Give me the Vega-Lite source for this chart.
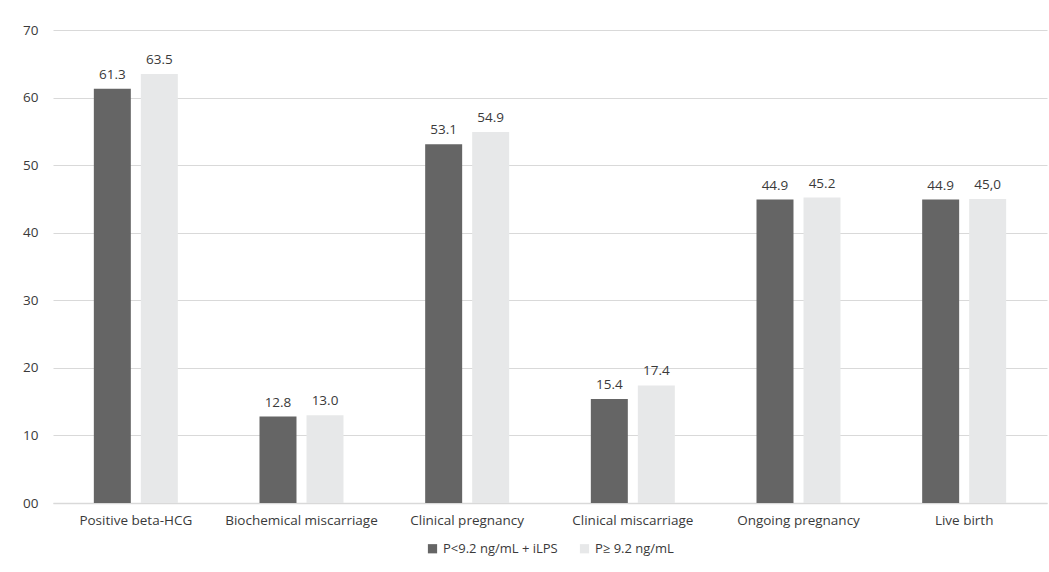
{
  "$schema": "https://vega.github.io/schema/vega-lite/v6.json",
  "width": 994,
  "height": 473,
  "autosize": {"type": "none"},
  "padding": {"left": 53, "top": 30, "right": 2, "bottom": 69},
  "background": "white",
  "config": {
    "font": "Open Sans",
    "view": {"stroke": null},
    "axis": {"labelFont": "Open Sans", "labelColor": "#3a3a3a", "labelFontSize": 13.5},
    "legend": {"labelFont": "Open Sans", "labelColor": "#3a3a3a", "labelFontSize": 13, "layout": {"bottom": {"anchor": "middle"}}}
  },
  "data": {
    "values": [
      {"category": "Positive beta-HCG", "group": "P<9.2 ng/mL + iLPS", "value": 61.3, "label": "61.3"},
      {"category": "Positive beta-HCG", "group": "P≥ 9.2 ng/mL", "value": 63.5, "label": "63.5"},
      {"category": "Biochemical miscarriage", "group": "P<9.2 ng/mL + iLPS", "value": 12.8, "label": "12.8"},
      {"category": "Biochemical miscarriage", "group": "P≥ 9.2 ng/mL", "value": 13.0, "label": "13.0"},
      {"category": "Clinical pregnancy", "group": "P<9.2 ng/mL + iLPS", "value": 53.1, "label": "53.1"},
      {"category": "Clinical pregnancy", "group": "P≥ 9.2 ng/mL", "value": 54.9, "label": "54.9"},
      {"category": "Clinical miscarriage", "group": "P<9.2 ng/mL + iLPS", "value": 15.4, "label": "15.4"},
      {"category": "Clinical miscarriage", "group": "P≥ 9.2 ng/mL", "value": 17.4, "label": "17.4"},
      {"category": "Ongoing pregnancy", "group": "P<9.2 ng/mL + iLPS", "value": 44.9, "label": "44.9"},
      {"category": "Ongoing pregnancy", "group": "P≥ 9.2 ng/mL", "value": 45.2, "label": "45.2"},
      {"category": "Live birth", "group": "P<9.2 ng/mL + iLPS", "value": 44.9, "label": "44.9"},
      {"category": "Live birth", "group": "P≥ 9.2 ng/mL", "value": 45.0, "label": "45,0"}
    ]
  },
  "encoding": {
    "x": {
      "field": "category", "type": "nominal", "sort": null,
      "scale": {"paddingInner": 0.493, "paddingOuter": 0.2465},
      "axis": {"title": null, "labelAngle": 0, "ticks": false, "domain": true, "domainColor": "#d9d9d9", "domainWidth": 1.5, "labelPadding": 10}
    },
    "xOffset": {
      "field": "group", "type": "nominal", "sort": ["P<9.2 ng/mL + iLPS", "P≥ 9.2 ng/mL"],
      "scale": {"paddingInner": 0.213, "paddingOuter": 0}
    },
    "y": {
      "field": "value", "type": "quantitative",
      "scale": {"domain": [0, 70], "nice": false},
      "axis": {"title": null, "values": [0, 10, 20, 30, 40, 50, 60, 70], "labelExpr": "datum.value == 0 ? '00' : datum.label", "ticks": false, "domain": false, "gridColor": "#d9d9d9", "gridWidth": 1.2, "labelPadding": 15}
    }
  },
  "layer": [
    {
      "mark": {"type": "bar"},
      "encoding": {
        "color": {
          "field": "group", "type": "nominal",
          "sort": ["P<9.2 ng/mL + iLPS", "P≥ 9.2 ng/mL"],
          "scale": {"domain": ["P<9.2 ng/mL + iLPS", "P≥ 9.2 ng/mL"], "range": ["#656565", "#e7e8e9"]},
          "legend": {"title": null, "orient": "bottom", "direction": "horizontal", "symbolType": "square", "symbolSize": 85, "symbolStrokeWidth": 0, "columnPadding": 20, "labelOffset": 4, "offset": 15}
        }
      }
    },
    {
      "mark": {"type": "text", "baseline": "bottom", "dy": -7, "fontSize": 13.5, "color": "#3a3a3a", "font": "Open Sans"},
      "encoding": {"text": {"field": "label"}}
    }
  ]
}
